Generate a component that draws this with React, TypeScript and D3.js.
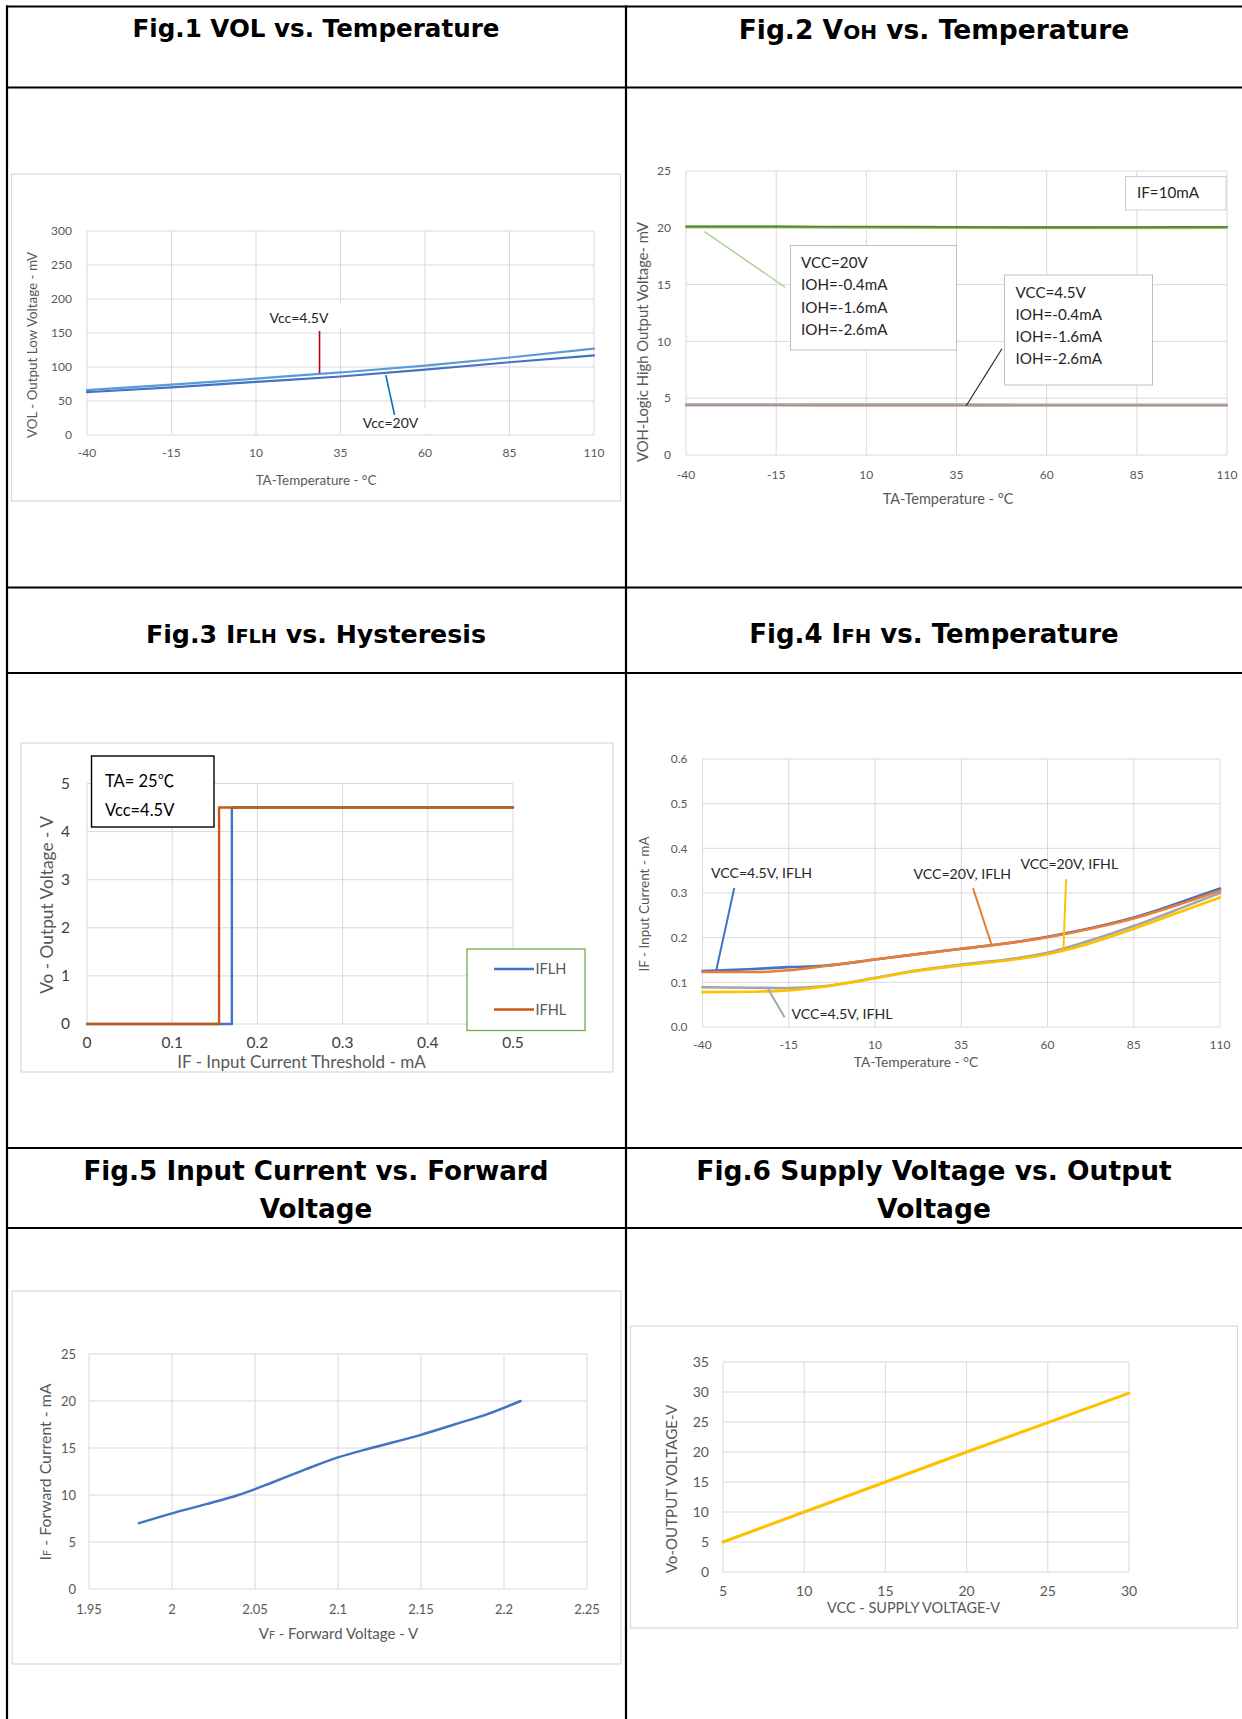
import React from 'react';
import * as d3 from 'd3';

const W = 1242;
const H = 1719;

// ---------- data ----------
const tempTicks = [-40, -15, 10, 35, 60, 85, 110];

// Fig.1 VOL vs temperature (mV)
const fig1Temp = [-40, -15, 10, 35, 60, 85, 110];
const fig1Vcc45 = [66, 74, 83, 92, 102, 114, 127];
const fig1Vcc20 = [63, 70, 78, 86, 96, 107, 117];
const fig1YTicks = [0, 50, 100, 150, 200, 250, 300];

// Fig.2 VOH vs temperature
const fig2Temp = [-40, -15, 10, 35, 60, 85, 110];
const fig2Vcc20Ioh04 = [20.14, 20.13, 20.11, 20.09, 20.06, 20.07, 20.09];
const fig2Vcc20Ioh16 = [20.09, 20.08, 20.06, 20.04, 20.01, 20.02, 20.04];
const fig2Vcc20Ioh26 = [20.04, 20.03, 20.01, 19.99, 19.96, 19.97, 19.99];
const fig2Vcc45Ioh04 = [4.48, 4.48, 4.47, 4.47, 4.46, 4.46, 4.46];
const fig2Vcc45Ioh16 = [4.42, 4.42, 4.41, 4.41, 4.40, 4.40, 4.40];
const fig2Vcc45Ioh26 = [4.36, 4.36, 4.35, 4.35, 4.34, 4.34, 4.34];
const fig2YTicks = [0, 5, 10, 15, 20, 25];

// Fig.3 IFLH / IFHL hysteresis
const fig3IflhX = [0, 0.17, 0.17, 0.5];
const fig3IflhY = [0, 0, 4.5, 4.5];
const fig3IfhlX = [0, 0.155, 0.155, 0.5];
const fig3IfhlY = [0, 0, 4.5, 4.5];
const fig3XTicks = [0, 0.1, 0.2, 0.3, 0.4, 0.5];
const fig3YTicks = [0, 1, 2, 3, 4, 5];

// Fig.4 IFH vs temperature (mA)
const fig4Temp = [-40, -25, -15, -5, 10, 20, 35, 45, 60, 70, 85, 100, 110];
const fig4Vcc45Iflh = [0.125, 0.13, 0.134, 0.137, 0.151, 0.161, 0.175, 0.184, 0.202, 0.217, 0.245, 0.283, 0.31];
const fig4Vcc20Iflh = [0.123, 0.123, 0.127, 0.136, 0.151, 0.161, 0.175, 0.184, 0.201, 0.216, 0.243, 0.279, 0.305];
const fig4Vcc45Ifhl = [0.089, 0.088, 0.087, 0.091, 0.11, 0.124, 0.14, 0.148, 0.166, 0.188, 0.226, 0.27, 0.3];
const fig4Vcc20Ifhl = [0.078, 0.079, 0.082, 0.09, 0.109, 0.123, 0.138, 0.146, 0.163, 0.182, 0.22, 0.262, 0.29];
const fig4YTicks = [0, 0.1, 0.2, 0.3, 0.4, 0.5, 0.6];

// Fig.5 IF vs VF
const fig5Vf = [1.98, 2.0, 2.02, 2.04, 2.06, 2.08, 2.1, 2.12, 2.15, 2.17, 2.19, 2.21];
const fig5If = [7.0, 8.05, 9.0, 10.0, 11.3, 12.7, 14.0, 15.0, 16.4, 17.5, 18.6, 20.0];
const fig5XTicks = [1.95, 2, 2.05, 2.1, 2.15, 2.2, 2.25];
const fig5YTicks = [0, 5, 10, 15, 20, 25];

// Fig.6 Vo vs VCC
const fig6Vcc = [5, 10, 15, 20, 25, 30];
const fig6Vo = [5, 10, 15, 20, 24.9, 29.8];
const fig6XTicks = [5, 10, 15, 20, 25, 30];
const fig6YTicks = [0, 5, 10, 15, 20, 25, 30, 35];

// ---------- helpers ----------
const GRID = '#d9d9d9';
const TICK = '#595959';
const FONT = "Lato, 'DejaVu Sans', sans-serif";
const TITLE_FONT = "'DejaVu Sans', sans-serif";

type Scale = d3.ScaleLinear<number, number>;
type Series = { x: number[]; y: number[]; color: string; width: number; curve?: d3.CurveFactory };

type PanelProps = {
  plot: { l: number; r: number; t: number; b: number };
  xDomain: [number, number];
  yDomain: [number, number];
  xTicks: number[];
  yTicks: number[];
  xFmt?: (v: number) => string;
  yFmt?: (v: number) => string;
  tickSize: number;
  tickColor?: string;
  yGap: number;
  xLabelY: number;
  series: Series[];
  extras?: (x: Scale, y: Scale) => React.ReactNode;
  under?: (x: Scale, y: Scale) => React.ReactNode;
};

function Panel(p: PanelProps) {
  const x = d3.scaleLinear().domain(p.xDomain).range([p.plot.l, p.plot.r]);
  const y = d3.scaleLinear().domain(p.yDomain).range([p.plot.b, p.plot.t]);
  const xf = p.xFmt || ((v: number) => String(v));
  const yf = p.yFmt || ((v: number) => String(v));
  const tc = p.tickColor || TICK;
  return (
    <g>
      {p.yTicks.map(t => (
        <line key={'gy' + t} x1={p.plot.l} x2={p.plot.r} y1={y(t)} y2={y(t)} stroke={GRID} strokeWidth={1} />
      ))}
      {p.xTicks.map(t => (
        <line key={'gx' + t} x1={x(t)} x2={x(t)} y1={p.plot.t} y2={p.plot.b} stroke={GRID} strokeWidth={1} />
      ))}
      {p.under && p.under(x, y)}
      {p.yTicks.map(t => (
        <text key={'ly' + t} x={p.plot.l - p.yGap} y={y(t)} dy="0.35em" textAnchor="end"
          fontSize={p.tickSize} fill={tc}>{yf(t)}</text>
      ))}
      {p.xTicks.map(t => (
        <text key={'lx' + t} x={x(t)} y={p.xLabelY} textAnchor="middle" fontSize={p.tickSize} fill={tc}>{xf(t)}</text>
      ))}
      {p.series.map((s, k) => {
        const gen = d3.line<number>()
          .x((_, i) => x(s.x[i]))
          .y(d => y(d))
          .curve(s.curve || d3.curveLinear);
        return <path key={'s' + k} d={gen(s.y) || ''} fill="none" stroke={s.color} strokeWidth={s.width}
          strokeLinejoin="round" strokeLinecap="round" />;
      })}
      {p.extras && p.extras(x, y)}
    </g>
  );
}

function Title(props: { x: number; y: number; size: number; parts: [string, boolean][] }) {
  return (
    <text x={props.x} y={props.y} textAnchor="middle" fontFamily={TITLE_FONT} fontWeight="bold"
      fontSize={props.size} fill="#000">
      {props.parts.map(([s, small], i) => (
        <tspan key={i} fontSize={small ? props.size * 0.76 : props.size}>{s}</tspan>
      ))}
    </text>
  );
}

function YTitle(props: { x: number; y: number; size: number; children: React.ReactNode }) {
  return (
    <text transform={`translate(${props.x},${props.y}) rotate(-90)`} textAnchor="middle" dy="0.35em"
      fontSize={props.size} fill={TICK}>{props.children}</text>
  );
}

function Lines(props: { x: number; y: number; lh: number; size: number; lines: string[] }) {
  return (
    <text fontSize={props.size} fill="#262626">
      {props.lines.map((l, i) => (
        <tspan key={i} x={props.x} y={props.y + i * props.lh}>{l}</tspan>
      ))}
    </text>
  );
}

export default function App() {
  const smooth = d3.curveMonotoneX;
  return (
    <svg width={W} height={H} style={{ position: 'absolute', left: 0, top: 0, display: 'block' }} fontFamily={FONT}>
      <rect width={W} height={H} fill="#fff" />

      {/* ---------- Fig.1 ---------- */}
      <rect x={11.5} y={174} width={609} height={327} fill="#fff" stroke={GRID} strokeWidth={1.2} />
      <Panel
        plot={{ l: 87, r: 594, t: 231, b: 435 }}
        xDomain={[-40, 110]} yDomain={[0, 300]}
        xTicks={tempTicks} yTicks={fig1YTicks}
        tickSize={12} yGap={15} xLabelY={457}
        series={[
          { x: fig1Temp, y: fig1Vcc45, color: '#5b9bd5', width: 2.2, curve: smooth },
          { x: fig1Temp, y: fig1Vcc20, color: '#4472c4', width: 2.2, curve: smooth },
        ]}
        under={() => (
          <g>
            <rect x={262} y={303} width={82} height={25} fill="#fff" />
            <rect x={356} y={408} width={72} height={26} fill="#fff" />
          </g>
        )}
        extras={(x, y) => (
          <g>
            <line x1={x(28.8)} x2={x(28.8)} y1={y(153)} y2={y(91)} stroke="#c00000" strokeWidth={1.6} />
            <line x1={x(48.4)} x2={x(51)} y1={y(88)} y2={y(29.5)} stroke="#0070c0" strokeWidth={1.6} />
            <text x={299} y={323} textAnchor="middle" fontSize={14} fill="#262626">Vcc=4.5V</text>
            <text x={390.5} y={427.5} textAnchor="middle" fontSize={14} fill="#262626">Vcc=20V</text>
          </g>
        )}
      />
      <text x={316} y={485} textAnchor="middle" fontSize={13.4} fill={TICK}>TA-Temperature - °C</text>
      <YTitle x={32} y={345} size={13.4}>VOL - Output Low Voltage - mV</YTitle>

      {/* ---------- Fig.2 ---------- */}
      <Panel
        plot={{ l: 686, r: 1227, t: 171, b: 455 }}
        xDomain={[-40, 110]} yDomain={[0, 25]}
        xTicks={tempTicks} yTicks={fig2YTicks}
        tickSize={12} yGap={15} xLabelY={479}
        series={[
          { x: fig2Temp, y: fig2Vcc20Ioh26, color: '#a9d18e', width: 2.2, curve: smooth },
          { x: fig2Temp, y: fig2Vcc20Ioh16, color: '#70ad47', width: 2.2, curve: smooth },
          { x: fig2Temp, y: fig2Vcc20Ioh04, color: '#548235', width: 1.6, curve: smooth },
          { x: fig2Temp, y: fig2Vcc45Ioh26, color: '#c9a08a', width: 2.2, curve: smooth },
          { x: fig2Temp, y: fig2Vcc45Ioh16, color: '#a98f84', width: 2.2, curve: smooth },
          { x: fig2Temp, y: fig2Vcc45Ioh04, color: '#a5a5a5', width: 1.8, curve: smooth },
        ]}
        extras={(x, y) => (
          <g>
            <line x1={x(-34.9)} y1={y(19.66)} x2={x(-12.5)} y2={y(14.77)} stroke="#a9d18e" strokeWidth={1.4} />
            <line x1={x(47.6)} y1={y(9.35)} x2={x(37.7)} y2={y(4.34)} stroke="#262626" strokeWidth={1.2} />
            <rect x={790.5} y={245.5} width={166} height={104.5} fill="#fff" stroke="#bfbfbf" strokeWidth={1} />
            <Lines x={801} y={267.5} lh={22.5} size={15.2}
              lines={['VCC=20V', 'IOH=-0.4mA', 'IOH=-1.6mA', 'IOH=-2.6mA']} />
            <rect x={1004.5} y={275} width={148} height={110} fill="#fff" stroke="#bfbfbf" strokeWidth={1} />
            <Lines x={1015.5} y={297.5} lh={22.3} size={15.2}
              lines={['VCC=4.5V', 'IOH=-0.4mA', 'IOH=-1.6mA', 'IOH=-2.6mA']} />
            <rect x={1125.5} y={176.5} width={100.5} height={33.5} fill="#fff" stroke="#c5d0e3" strokeWidth={1} />
            <text x={1137} y={198} fontSize={15.2} fill="#262626">IF=10mA</text>
          </g>
        )}
      />
      <text x={948} y={504} textAnchor="middle" fontSize={14.5} fill={TICK}>TA-Temperature - °C</text>
      <YTitle x={643} y={342} size={14.8}>VOH-Logic High Output Voltage- mV</YTitle>

      {/* ---------- Fig.3 ---------- */}
      <rect x={21} y={743} width={592} height={329} fill="#fff" stroke={GRID} strokeWidth={1.2} />
      <Panel
        plot={{ l: 87, r: 513, t: 783.5, b: 1024 }}
        xDomain={[0, 0.5]} yDomain={[0, 5]}
        xTicks={fig3XTicks} yTicks={fig3YTicks}
        tickSize={15.5} tickColor="#404040" yGap={17} xLabelY={1047.5}
        series={[
          { x: fig3IflhX, y: fig3IflhY, color: '#4472c4', width: 2.4 },
          { x: fig3IfhlX, y: fig3IfhlY, color: '#c55a11', width: 2.4 },
        ]}
        extras={() => (
          <g>
            <rect x={91.5} y={756} width={122.5} height={71} fill="#fff" stroke="#000" strokeWidth={1.4} />
            <text x={105} y={787} fontSize={16.5} fill="#000" fontFamily={"Lato, 'Noto Sans CJK SC', sans-serif"}>TA= 25℃</text>
            <text x={105} y={815.5} fontSize={16.5} fill="#000">Vcc=4.5V</text>
            <rect x={467} y={949} width={118} height={81.5} fill="#fff" stroke="#70ad47" strokeWidth={1.3} />
            <line x1={494} x2={534} y1={969} y2={969} stroke="#4472c4" strokeWidth={2.4} />
            <text x={535.5} y={974} fontSize={14.5} fill={TICK}>IFLH</text>
            <line x1={494} x2={534} y1={1009.5} y2={1009.5} stroke="#c55a11" strokeWidth={2.4} />
            <text x={535.5} y={1014.5} fontSize={14.5} fill={TICK}>IFHL</text>
          </g>
        )}
      />
      <text x={301.5} y={1068} textAnchor="middle" fontSize={17} fill={TICK}>IF - Input Current Threshold - mA</text>
      <YTitle x={47} y={905} size={17.3}>Vo - Output Voltage - V</YTitle>

      {/* ---------- Fig.4 ---------- */}
      <Panel
        plot={{ l: 702.5, r: 1220, t: 759, b: 1027 }}
        xDomain={[-40, 110]} yDomain={[0, 0.6]}
        xTicks={tempTicks} yTicks={fig4YTicks}
        yFmt={d3.format('.1f')}
        tickSize={12} yGap={15} xLabelY={1049}
        series={[
          { x: fig4Temp, y: fig4Vcc45Iflh, color: '#4472c4', width: 2.6, curve: smooth },
          { x: fig4Temp, y: fig4Vcc20Iflh, color: '#ed7d31', width: 2.6, curve: smooth },
          { x: fig4Temp, y: fig4Vcc45Ifhl, color: '#a5a5a5', width: 2.6, curve: smooth },
          { x: fig4Temp, y: fig4Vcc20Ifhl, color: '#ffc000', width: 2.6, curve: smooth },
        ]}
        extras={(x, y) => (
          <g>
            <line x1={x(-30.8)} y1={y(0.311)} x2={x(-36)} y2={y(0.127)} stroke="#4472c4" strokeWidth={2} />
            <line x1={x(38.4)} y1={y(0.311)} x2={x(43.8)} y2={y(0.184)} stroke="#ed7d31" strokeWidth={2} />
            <line x1={x(65.4)} y1={y(0.331)} x2={x(64.6)} y2={y(0.173)} stroke="#ffc000" strokeWidth={2} />
            <line x1={x(-21)} y1={y(0.085)} x2={x(-16.2)} y2={y(0.022)} stroke="#a5a5a5" strokeWidth={2} />
            <text x={711} y={877.5} fontSize={14.1} fill="#262626">VCC=4.5V, IFLH</text>
            <text x={913.5} y={879} fontSize={14.1} fill="#262626">VCC=20V, IFLH</text>
            <text x={1020.5} y={869} fontSize={14.1} fill="#262626">VCC=20V, IFHL</text>
            <text x={791.5} y={1019} fontSize={14.1} fill="#262626">VCC=4.5V, IFHL</text>
          </g>
        )}
      />
      <text x={916} y={1067} textAnchor="middle" fontSize={13.8} fill={TICK}>TA-Temperature - °C</text>
      <YTitle x={644.5} y={904} size={13.5}>IF - Input Current - mA</YTitle>

      {/* ---------- Fig.5 ---------- */}
      <rect x={12} y={1291} width={609} height={373} fill="#fff" stroke={GRID} strokeWidth={1.2} />
      <Panel
        plot={{ l: 89, r: 587, t: 1354, b: 1589 }}
        xDomain={[1.95, 2.25]} yDomain={[0, 25]}
        xTicks={fig5XTicks} yTicks={fig5YTicks}
        tickSize={13} yGap={13} xLabelY={1614}
        series={[{ x: fig5Vf, y: fig5If, color: '#4472c4', width: 2.5, curve: smooth }]}
      />
      <text x={338.5} y={1639} textAnchor="middle" fontSize={15} fill={TICK}>
        V<tspan fontSize={10.5}>F</tspan> - Forward Voltage - V
      </text>
      <YTitle x={45} y={1472} size={15.8}>
        I<tspan fontSize={11}>F</tspan> - Forward Current - mA
      </YTitle>

      {/* ---------- Fig.6 ---------- */}
      <rect x={630.5} y={1326} width={607} height={302} fill="#fff" stroke={GRID} strokeWidth={1.2} />
      <Panel
        plot={{ l: 723, r: 1129, t: 1362, b: 1572 }}
        xDomain={[5, 30]} yDomain={[0, 35]}
        xTicks={fig6XTicks} yTicks={fig6YTicks}
        tickSize={14} yGap={14} xLabelY={1596}
        series={[{ x: fig6Vcc, y: fig6Vo, color: '#ffc000', width: 3 }]}
      />
      <text x={913.5} y={1613} textAnchor="middle" fontSize={14.5} fill={TICK}>VCC - SUPPLY VOLTAGE-V</text>
      <YTitle x={671.5} y={1489} size={15.1}>Vo-OUTPUT VOLTAGE-V</YTitle>

      {/* ---------- table frame ---------- */}
      {[6.5, 87.5, 587.5, 673, 1148, 1228].map(yy => (
        <line key={'h' + yy} x1={6} x2={W} y1={yy} y2={yy} stroke="#000" strokeWidth={2.2} />
      ))}
      {[7, 626].map(xx => (
        <line key={'v' + xx} x1={xx} x2={xx} y1={5.5} y2={H} stroke="#000" strokeWidth={2.2} />
      ))}

      <Title x={316} y={36.5} size={24.6} parts={[['Fig.1 VOL vs. Temperature', false]]} />
      <Title x={934} y={38.5} size={26.5} parts={[['Fig.2 V', false], ['OH', true], [' vs. Temperature', false]]} />
      <Title x={316} y={642.5} size={25.3} parts={[['Fig.3 I', false], ['FLH', true], [' vs. Hysteresis', false]]} />
      <Title x={934} y={642.5} size={26} parts={[['Fig.4 I', false], ['FH', true], [' vs. Temperature', false]]} />
      <Title x={316} y={1180} size={26.2} parts={[['Fig.5 Input Current vs. Forward', false]]} />
      <Title x={316} y={1218} size={26.2} parts={[['Voltage', false]]} />
      <Title x={934} y={1180} size={26.5} parts={[['Fig.6 Supply Voltage vs. Output', false]]} />
      <Title x={934} y={1218} size={26.5} parts={[['Voltage', false]]} />
    </svg>
  );
}
